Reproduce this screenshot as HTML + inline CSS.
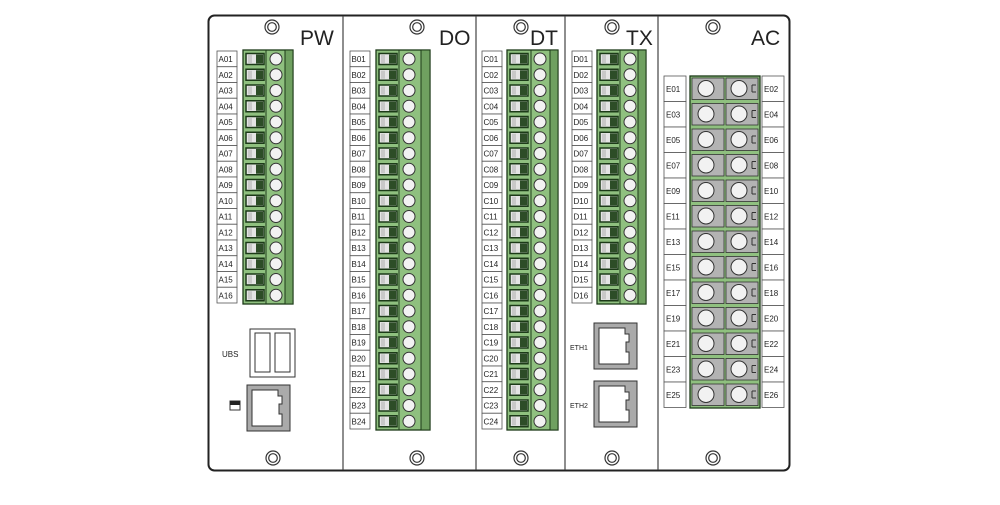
<!DOCTYPE html>
<html><head><meta charset="utf-8"><style>
html,body{margin:0;padding:0;background:#fff;width:1000px;height:505px;overflow:hidden}
text{font-family:"Liberation Sans",sans-serif}
.l{font-size:8px;fill:#222}
.t{font-size:21px;fill:#222}
</style></head><body>
<svg width="1000" height="505" viewBox="0 0 1000 505" xmlns="http://www.w3.org/2000/svg">
<defs>
<g id="r">
<rect x="3" y="2.5" width="18" height="11" fill="#e4e4e4" stroke="#1c3a18" stroke-width="1.5"/>
<rect x="13" y="3.5" width="7" height="9" fill="#2d4d27"/>
<rect x="5" y="4" width="4" height="8" fill="#c8c8c8"/>
<circle cx="33" cy="8" r="6" fill="#f2f2f2" stroke="#333" stroke-width="1"/>
</g>
<g id="lb"><rect x="0" y="0" width="20" height="15.75" fill="#fff" stroke="#555" stroke-width="0.8"/></g>
<g id="eb"><rect x="0" y="0" width="22" height="25.5" fill="#fff" stroke="#555" stroke-width="0.8"/></g>
<g id="ar">
<rect x="2" y="2" width="32" height="21.5" fill="#b3b3b3" stroke="#333" stroke-width="0.8"/>
<rect x="36" y="2" width="32" height="21.5" fill="#b3b3b3" stroke="#333" stroke-width="0.8"/>
<circle cx="16" cy="12.5" r="8" fill="#f2f2f2" stroke="#333"/>
<circle cx="49" cy="12.5" r="8" fill="#f2f2f2" stroke="#333"/>
<path d="M62 9h4M62 16h4M62 9v7" stroke="#333" fill="none"/>
</g>
<g id="sc"><circle r="7" fill="#fff" stroke="#333" stroke-width="1.2"/><circle r="4.3" fill="#fff" stroke="#333" stroke-width="1.2"/></g>
<g id="rj">
<rect x="0" y="0" width="43" height="46" fill="#aaa" stroke="#333"/>
<path d="M5 5h26v6h4v8h-3v10h3v12H5z" fill="#fff" stroke="#333"/>
</g>
</defs>
<rect x="208.5" y="15.5" width="581" height="455" rx="6" fill="#fff" stroke="#222" stroke-width="2"/>
<g stroke="#444" stroke-width="1.2">
<line x1="343" y1="16" x2="343" y2="470"/><line x1="476" y1="16" x2="476" y2="470"/>
<line x1="565" y1="16" x2="565" y2="470"/><line x1="658" y1="16" x2="658" y2="470"/>
</g>
<use href="#sc" x="272" y="27"/><use href="#sc" x="417" y="27"/><use href="#sc" x="521" y="27"/><use href="#sc" x="612" y="27"/><use href="#sc" x="713" y="27"/>
<use href="#sc" x="273" y="458"/><use href="#sc" x="417" y="458"/><use href="#sc" x="521" y="458"/><use href="#sc" x="612" y="458"/><use href="#sc" x="713" y="458"/>
<text class="t" x="300" y="45">PW</text><text class="t" x="439" y="45">DO</text><text class="t" x="530" y="45">DT</text><text class="t" x="626" y="45">TX</text><text class="t" x="751" y="45">AC</text>

<!-- PW -->
<rect x="243" y="50" width="50" height="254" fill="#8fc07f" stroke="#1c3a18" stroke-width="1.3"/>
<rect x="285" y="50" width="8" height="254" fill="#6fa060" stroke="#1c3a18"/>
<line x1="266" y1="50" x2="266" y2="304" stroke="#1c3a18"/>
<g transform="translate(243,51)"><use href="#r" y="0"/><use href="#r" y="15.75"/><use href="#r" y="31.5"/><use href="#r" y="47.25"/><use href="#r" y="63"/><use href="#r" y="78.75"/><use href="#r" y="94.5"/><use href="#r" y="110.25"/><use href="#r" y="126"/><use href="#r" y="141.75"/><use href="#r" y="157.5"/><use href="#r" y="173.25"/><use href="#r" y="189"/><use href="#r" y="204.75"/><use href="#r" y="220.5"/><use href="#r" y="236.25"/></g>
<g transform="translate(217,51)"><use href="#lb" y="0"/><use href="#lb" y="15.75"/><use href="#lb" y="31.5"/><use href="#lb" y="47.25"/><use href="#lb" y="63"/><use href="#lb" y="78.75"/><use href="#lb" y="94.5"/><use href="#lb" y="110.25"/><use href="#lb" y="126"/><use href="#lb" y="141.75"/><use href="#lb" y="157.5"/><use href="#lb" y="173.25"/><use href="#lb" y="189"/><use href="#lb" y="204.75"/><use href="#lb" y="220.5"/><use href="#lb" y="236.25"/>
<g class="l"><text x="1.5" y="11">A01</text><text x="1.5" y="26.75">A02</text><text x="1.5" y="42.5">A03</text><text x="1.5" y="58.25">A04</text><text x="1.5" y="74">A05</text><text x="1.5" y="89.75">A06</text><text x="1.5" y="105.5">A07</text><text x="1.5" y="121.25">A08</text><text x="1.5" y="137">A09</text><text x="1.5" y="152.75">A10</text><text x="1.5" y="168.5">A11</text><text x="1.5" y="184.25">A12</text><text x="1.5" y="200">A13</text><text x="1.5" y="215.75">A14</text><text x="1.5" y="231.5">A15</text><text x="1.5" y="247.25">A16</text></g></g>
<rect x="250" y="329" width="45" height="48" fill="#fff" stroke="#333"/>
<rect x="255" y="333" width="15" height="39" fill="#fff" stroke="#333"/>
<rect x="275" y="333" width="15" height="39" fill="#fff" stroke="#333"/>
<text class="l" x="222" y="357">UBS</text>
<use href="#rj" x="247" y="385"/>
<rect x="230" y="401" width="10" height="9" fill="#fff" stroke="#333"/><rect x="230" y="401" width="10" height="4" fill="#222"/>

<!-- DO -->
<rect x="376" y="50" width="54" height="380" fill="#8fc07f" stroke="#1c3a18" stroke-width="1.3"/>
<rect x="421" y="50" width="9" height="380" fill="#6fa060" stroke="#1c3a18"/>
<line x1="399" y1="50" x2="399" y2="430" stroke="#1c3a18"/>
<g transform="translate(376,51)"><use href="#r" y="0"/><use href="#r" y="15.75"/><use href="#r" y="31.5"/><use href="#r" y="47.25"/><use href="#r" y="63"/><use href="#r" y="78.75"/><use href="#r" y="94.5"/><use href="#r" y="110.25"/><use href="#r" y="126"/><use href="#r" y="141.75"/><use href="#r" y="157.5"/><use href="#r" y="173.25"/><use href="#r" y="189"/><use href="#r" y="204.75"/><use href="#r" y="220.5"/><use href="#r" y="236.25"/><use href="#r" y="252"/><use href="#r" y="267.75"/><use href="#r" y="283.5"/><use href="#r" y="299.25"/><use href="#r" y="315"/><use href="#r" y="330.75"/><use href="#r" y="346.5"/><use href="#r" y="362.25"/></g>
<g transform="translate(350,51)"><use href="#lb" y="0"/><use href="#lb" y="15.75"/><use href="#lb" y="31.5"/><use href="#lb" y="47.25"/><use href="#lb" y="63"/><use href="#lb" y="78.75"/><use href="#lb" y="94.5"/><use href="#lb" y="110.25"/><use href="#lb" y="126"/><use href="#lb" y="141.75"/><use href="#lb" y="157.5"/><use href="#lb" y="173.25"/><use href="#lb" y="189"/><use href="#lb" y="204.75"/><use href="#lb" y="220.5"/><use href="#lb" y="236.25"/><use href="#lb" y="252"/><use href="#lb" y="267.75"/><use href="#lb" y="283.5"/><use href="#lb" y="299.25"/><use href="#lb" y="315"/><use href="#lb" y="330.75"/><use href="#lb" y="346.5"/><use href="#lb" y="362.25"/>
<g class="l"><text x="1.5" y="11">B01</text><text x="1.5" y="26.75">B02</text><text x="1.5" y="42.5">B03</text><text x="1.5" y="58.25">B04</text><text x="1.5" y="74">B05</text><text x="1.5" y="89.75">B06</text><text x="1.5" y="105.5">B07</text><text x="1.5" y="121.25">B08</text><text x="1.5" y="137">B09</text><text x="1.5" y="152.75">B10</text><text x="1.5" y="168.5">B11</text><text x="1.5" y="184.25">B12</text><text x="1.5" y="200">B13</text><text x="1.5" y="215.75">B14</text><text x="1.5" y="231.5">B15</text><text x="1.5" y="247.25">B16</text><text x="1.5" y="263">B17</text><text x="1.5" y="278.75">B18</text><text x="1.5" y="294.5">B19</text><text x="1.5" y="310.25">B20</text><text x="1.5" y="326">B21</text><text x="1.5" y="341.75">B22</text><text x="1.5" y="357.5">B23</text><text x="1.5" y="373.25">B24</text></g></g>

<!-- DT -->
<rect x="507" y="50" width="51" height="380" fill="#8fc07f" stroke="#1c3a18" stroke-width="1.3"/>
<rect x="550" y="50" width="8" height="380" fill="#6fa060" stroke="#1c3a18"/>
<line x1="531" y1="50" x2="531" y2="430" stroke="#1c3a18"/>
<g transform="translate(507,51)"><use href="#r" y="0"/><use href="#r" y="15.75"/><use href="#r" y="31.5"/><use href="#r" y="47.25"/><use href="#r" y="63"/><use href="#r" y="78.75"/><use href="#r" y="94.5"/><use href="#r" y="110.25"/><use href="#r" y="126"/><use href="#r" y="141.75"/><use href="#r" y="157.5"/><use href="#r" y="173.25"/><use href="#r" y="189"/><use href="#r" y="204.75"/><use href="#r" y="220.5"/><use href="#r" y="236.25"/><use href="#r" y="252"/><use href="#r" y="267.75"/><use href="#r" y="283.5"/><use href="#r" y="299.25"/><use href="#r" y="315"/><use href="#r" y="330.75"/><use href="#r" y="346.5"/><use href="#r" y="362.25"/></g>
<g transform="translate(482,51)"><use href="#lb" y="0"/><use href="#lb" y="15.75"/><use href="#lb" y="31.5"/><use href="#lb" y="47.25"/><use href="#lb" y="63"/><use href="#lb" y="78.75"/><use href="#lb" y="94.5"/><use href="#lb" y="110.25"/><use href="#lb" y="126"/><use href="#lb" y="141.75"/><use href="#lb" y="157.5"/><use href="#lb" y="173.25"/><use href="#lb" y="189"/><use href="#lb" y="204.75"/><use href="#lb" y="220.5"/><use href="#lb" y="236.25"/><use href="#lb" y="252"/><use href="#lb" y="267.75"/><use href="#lb" y="283.5"/><use href="#lb" y="299.25"/><use href="#lb" y="315"/><use href="#lb" y="330.75"/><use href="#lb" y="346.5"/><use href="#lb" y="362.25"/>
<g class="l"><text x="1.5" y="11">C01</text><text x="1.5" y="26.75">C02</text><text x="1.5" y="42.5">C03</text><text x="1.5" y="58.25">C04</text><text x="1.5" y="74">C05</text><text x="1.5" y="89.75">C06</text><text x="1.5" y="105.5">C07</text><text x="1.5" y="121.25">C08</text><text x="1.5" y="137">C09</text><text x="1.5" y="152.75">C10</text><text x="1.5" y="168.5">C11</text><text x="1.5" y="184.25">C12</text><text x="1.5" y="200">C13</text><text x="1.5" y="215.75">C14</text><text x="1.5" y="231.5">C15</text><text x="1.5" y="247.25">C16</text><text x="1.5" y="263">C17</text><text x="1.5" y="278.75">C18</text><text x="1.5" y="294.5">C19</text><text x="1.5" y="310.25">C20</text><text x="1.5" y="326">C21</text><text x="1.5" y="341.75">C22</text><text x="1.5" y="357.5">C23</text><text x="1.5" y="373.25">C24</text></g></g>

<!-- TX -->
<rect x="597" y="50" width="49" height="254" fill="#8fc07f" stroke="#1c3a18" stroke-width="1.3"/>
<rect x="638" y="50" width="8" height="254" fill="#6fa060" stroke="#1c3a18"/>
<line x1="620" y1="50" x2="620" y2="304" stroke="#1c3a18"/>
<g transform="translate(597,51)"><use href="#r" y="0"/><use href="#r" y="15.75"/><use href="#r" y="31.5"/><use href="#r" y="47.25"/><use href="#r" y="63"/><use href="#r" y="78.75"/><use href="#r" y="94.5"/><use href="#r" y="110.25"/><use href="#r" y="126"/><use href="#r" y="141.75"/><use href="#r" y="157.5"/><use href="#r" y="173.25"/><use href="#r" y="189"/><use href="#r" y="204.75"/><use href="#r" y="220.5"/><use href="#r" y="236.25"/></g>
<g transform="translate(572,51)"><use href="#lb" y="0"/><use href="#lb" y="15.75"/><use href="#lb" y="31.5"/><use href="#lb" y="47.25"/><use href="#lb" y="63"/><use href="#lb" y="78.75"/><use href="#lb" y="94.5"/><use href="#lb" y="110.25"/><use href="#lb" y="126"/><use href="#lb" y="141.75"/><use href="#lb" y="157.5"/><use href="#lb" y="173.25"/><use href="#lb" y="189"/><use href="#lb" y="204.75"/><use href="#lb" y="220.5"/><use href="#lb" y="236.25"/>
<g class="l"><text x="1.5" y="11">D01</text><text x="1.5" y="26.75">D02</text><text x="1.5" y="42.5">D03</text><text x="1.5" y="58.25">D04</text><text x="1.5" y="74">D05</text><text x="1.5" y="89.75">D06</text><text x="1.5" y="105.5">D07</text><text x="1.5" y="121.25">D08</text><text x="1.5" y="137">D09</text><text x="1.5" y="152.75">D10</text><text x="1.5" y="168.5">D11</text><text x="1.5" y="184.25">D12</text><text x="1.5" y="200">D13</text><text x="1.5" y="215.75">D14</text><text x="1.5" y="231.5">D15</text><text x="1.5" y="247.25">D16</text></g></g>
<use href="#rj" x="594" y="323"/><use href="#rj" x="594" y="381"/>
<text class="l" x="570" y="350" style="font-size:7px">ETH1</text>
<text class="l" x="570" y="408" style="font-size:7px">ETH2</text>

<!-- AC -->
<rect x="690" y="76" width="70" height="332" fill="#8fc07f" stroke="#1c3a18" stroke-width="1.3"/>
<g transform="translate(690,76)"><use href="#ar" y="0"/><use href="#ar" y="25.5"/><use href="#ar" y="51"/><use href="#ar" y="76.5"/><use href="#ar" y="102"/><use href="#ar" y="127.5"/><use href="#ar" y="153"/><use href="#ar" y="178.5"/><use href="#ar" y="204"/><use href="#ar" y="229.5"/><use href="#ar" y="255"/><use href="#ar" y="280.5"/><use href="#ar" y="306"/></g>
<g transform="translate(664,76)"><use href="#eb" y="0"/><use href="#eb" y="25.5"/><use href="#eb" y="51"/><use href="#eb" y="76.5"/><use href="#eb" y="102"/><use href="#eb" y="127.5"/><use href="#eb" y="153"/><use href="#eb" y="178.5"/><use href="#eb" y="204"/><use href="#eb" y="229.5"/><use href="#eb" y="255"/><use href="#eb" y="280.5"/><use href="#eb" y="306"/>
<g class="l"><text x="2" y="16">E01</text><text x="2" y="41.5">E03</text><text x="2" y="67">E05</text><text x="2" y="92.5">E07</text><text x="2" y="118">E09</text><text x="2" y="143.5">E11</text><text x="2" y="169">E13</text><text x="2" y="194.5">E15</text><text x="2" y="220">E17</text><text x="2" y="245.5">E19</text><text x="2" y="271">E21</text><text x="2" y="296.5">E23</text><text x="2" y="322">E25</text></g></g>
<g transform="translate(762,76)"><use href="#eb" y="0"/><use href="#eb" y="25.5"/><use href="#eb" y="51"/><use href="#eb" y="76.5"/><use href="#eb" y="102"/><use href="#eb" y="127.5"/><use href="#eb" y="153"/><use href="#eb" y="178.5"/><use href="#eb" y="204"/><use href="#eb" y="229.5"/><use href="#eb" y="255"/><use href="#eb" y="280.5"/><use href="#eb" y="306"/>
<g class="l"><text x="2" y="16">E02</text><text x="2" y="41.5">E04</text><text x="2" y="67">E06</text><text x="2" y="92.5">E08</text><text x="2" y="118">E10</text><text x="2" y="143.5">E12</text><text x="2" y="169">E14</text><text x="2" y="194.5">E16</text><text x="2" y="220">E18</text><text x="2" y="245.5">E20</text><text x="2" y="271">E22</text><text x="2" y="296.5">E24</text><text x="2" y="322">E26</text></g></g>
</svg>
</body></html>
